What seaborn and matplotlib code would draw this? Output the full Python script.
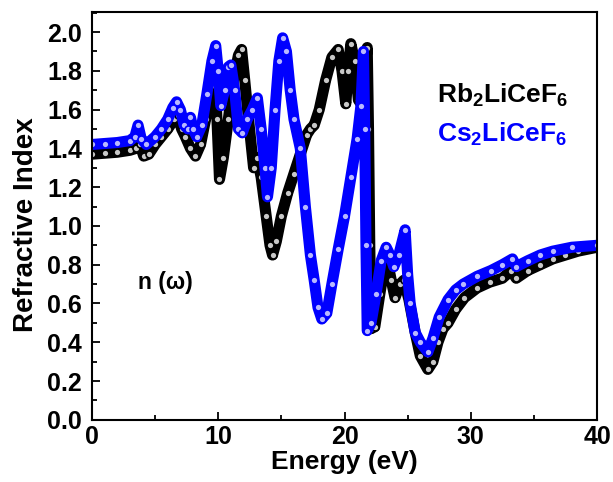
import matplotlib
matplotlib.use("Agg")
import matplotlib.pyplot as plt
import seaborn as sns
import pandas as pd
from matplotlib.ticker import MultipleLocator

# ---- data ----
rb_energy = [0, 1, 2, 3, 3.5, 3.8, 4.1, 4.5, 5, 5.5, 6, 6.5, 6.8, 7.1, 7.4, 7.8, 8.2, 8.6, 9.0, 9.4,
             9.7, 9.9, 10.1, 10.4, 10.8, 11.2, 11.6, 11.85, 12.1, 12.4, 12.8, 13.1, 13.4, 13.8, 14.1,
             14.3, 14.6, 15.0, 15.5, 16.0, 16.5, 17.0, 17.3, 17.6, 18.0, 18.5, 19.0, 19.5, 19.8, 20.1,
             20.3, 20.5, 20.8, 21.1, 21.4, 21.6, 21.8, 21.9, 22.0, 22.1, 22.4, 22.8, 23.3, 23.7, 24.0,
             24.4, 24.7, 25.1, 25.6, 26.0, 26.6, 27.0, 27.4, 27.8, 28.2, 28.8, 29.5, 30.5, 31.5, 32.5,
             33.2, 33.6, 34.5, 35.5, 36.5, 37.5, 38.5, 40]
rb_n = [1.37, 1.375, 1.38, 1.39, 1.40, 1.42, 1.36, 1.37, 1.42, 1.46, 1.50, 1.55, 1.57, 1.50, 1.46,
        1.40, 1.36, 1.42, 1.55, 1.72, 1.80, 1.55, 1.24, 1.35, 1.55, 1.75, 1.88, 1.91, 1.75, 1.55,
        1.30, 1.35, 1.25, 1.05, 0.90, 0.85, 0.92, 1.05, 1.17, 1.27, 1.37, 1.47, 1.50, 1.52, 1.60,
        1.75, 1.87, 1.91, 1.80, 1.63, 1.80, 1.94, 1.85, 1.65, 1.62, 1.80, 1.92, 1.50, 0.90, 0.47,
        0.48, 0.65, 0.85, 0.72, 0.63, 0.70, 0.72, 0.62, 0.45, 0.33, 0.26, 0.30, 0.40, 0.47, 0.50,
        0.57, 0.63, 0.68, 0.71, 0.73, 0.77, 0.73, 0.77, 0.80, 0.83, 0.85, 0.87, 0.89]

cs_energy = [0, 1, 2, 3, 3.4, 3.65, 3.9, 4.3, 5, 5.5, 6, 6.4, 6.7, 7.0, 7.3, 7.6, 7.8, 8.0, 8.3, 8.7,
             9.1, 9.5, 9.8, 10.0, 10.2, 10.5, 10.8, 11.0, 11.3, 11.6, 11.9, 12.3, 12.7, 13.1, 13.4,
             13.7, 13.9, 14.2, 14.5, 14.8, 15.1, 15.4, 15.7, 16.0, 16.5, 16.9, 17.3, 17.6, 17.9, 18.2,
             18.6, 19.0, 19.5, 20.0, 20.5, 21.0, 21.3, 21.5, 21.6, 21.7, 21.8, 22.1, 22.5, 22.9, 23.3,
             23.6, 23.9, 24.3, 24.8, 25.0, 25.2, 25.6, 26.0, 26.6, 27.0, 27.5, 28.2, 28.8, 29.4, 30.5,
             31.6, 32.5, 33.3, 33.6, 34.5, 35.5, 36.5, 38, 40]
cs_n = [1.42, 1.425, 1.43, 1.44, 1.46, 1.52, 1.45, 1.42, 1.46, 1.50, 1.55, 1.61, 1.64, 1.60, 1.52,
        1.50, 1.56, 1.50, 1.46, 1.52, 1.68, 1.85, 1.93, 1.80, 1.62, 1.70, 1.82, 1.83, 1.70, 1.50,
        1.48, 1.55, 1.60, 1.66, 1.50, 1.30, 1.15, 1.30, 1.60, 1.85, 1.97, 1.90, 1.70, 1.55, 1.40,
        1.10, 0.85, 0.72, 0.58, 0.52, 0.55, 0.70, 0.88, 1.05, 1.25, 1.45, 1.62, 1.90, 1.50, 0.90,
        0.46, 0.50, 0.65, 0.82, 0.89, 0.85, 0.79, 0.85, 0.98, 0.75, 0.60, 0.45, 0.40, 0.35, 0.42,
        0.53, 0.62, 0.67, 0.70, 0.74, 0.77, 0.80, 0.83, 0.79, 0.82, 0.85, 0.87, 0.89, 0.90]

x_ticks = [0, 10, 20, 30, 40]
y_ticks = [0.0, 0.2, 0.4, 0.6, 0.8, 1.0, 1.2, 1.4, 1.6, 1.8, 2.0]

rb = pd.DataFrame({"Energy (eV)": rb_energy, "n": rb_n})
cs = pd.DataFrame({"Energy (eV)": cs_energy, "n": cs_n})

sns.set_style("ticks")
plt.rcParams["font.family"] = ["Liberation Sans", "DejaVu Sans"]
plt.rcParams["font.sans-serif"] = ["Liberation Sans", "DejaVu Sans"]
plt.rcParams["font.weight"] = "bold"
plt.rcParams["mathtext.fontset"] = "custom"
plt.rcParams["mathtext.rm"] = "Liberation Sans:bold"
plt.rcParams["mathtext.bf"] = "Liberation Sans:bold"
plt.rcParams["mathtext.it"] = "Liberation Sans:bold"
for key in ["text.color", "axes.labelcolor", "xtick.color", "ytick.color", "axes.edgecolor"]:
    plt.rcParams[key] = "black"

fig = plt.figure(figsize=(6.13, 4.82), dpi=100)
ax = fig.add_axes([0.150, 0.129, 0.824, 0.846])

sns.lineplot(data=rb, x="Energy (eV)", y="n", ax=ax, sort=False, estimator=None,
             color="black", linewidth=8, marker="o", markersize=5,
             markerfacecolor="#c8c8c8", markeredgecolor="black", markeredgewidth=1.2)
sns.lineplot(data=cs, x="Energy (eV)", y="n", ax=ax, sort=False, estimator=None,
             color="#0000ff", linewidth=8, marker="o", markersize=5,
             markerfacecolor="#b8b8ff", markeredgecolor="#0000ff", markeredgewidth=1.2)

ax.set_xlim(0, 40)
ax.set_ylim(0, 2.103)
ax.set_xticks(x_ticks)
ax.set_yticks(y_ticks)
ax.set_xticklabels([str(v) for v in x_ticks])
ax.set_yticklabels([f"{v:.1f}" for v in y_ticks])
ax.xaxis.set_minor_locator(MultipleLocator(5))
ax.yaxis.set_minor_locator(MultipleLocator(0.1))
ax.tick_params(which="both", direction="in", width=1.3, labelsize=18, colors="black")
ax.tick_params(which="major", length=6)
ax.tick_params(which="minor", length=3.5)
ax.tick_params(axis="x", pad=4)
ax.tick_params(axis="y", pad=7)
for s in ax.spines.values():
    s.set_visible(True)
    s.set_linewidth(1.5)
    s.set_color("black")
for lab in ax.get_xticklabels() + ax.get_yticklabels():
    lab.set_fontweight("bold")

ax.set_xlabel("Energy (eV)", fontsize=19, fontweight="bold", labelpad=0.5)
ax.set_ylabel("Refractive Index", fontsize=20, fontweight="bold")
ax.yaxis.set_label_coords(-0.104, 0.478)

ax.text(3.65, 0.706, "n (ω)", fontsize=16.5, fontweight="bold", color="black", va="center")
ax.text(27.3, 1.634, r"$\mathbf{Rb_2LiCeF_6}$", fontsize=19, color="black", va="baseline")
ax.text(27.3, 1.433, r"$\mathbf{Cs_2LiCeF_6}$", fontsize=19, color="#0000ff", va="baseline")

fig.savefig("out.png", dpi=100)
